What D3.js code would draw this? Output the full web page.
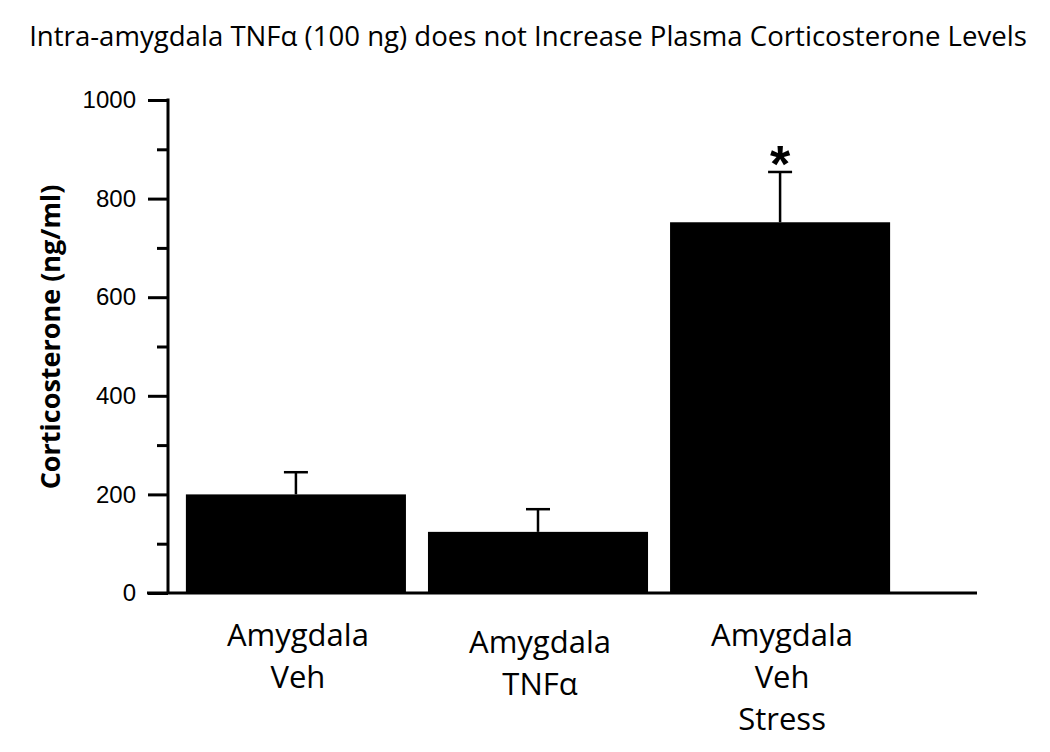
<!DOCTYPE html>
<html>
<head>
<meta charset="utf-8">
<script src="https://cdn.jsdelivr.net/npm/d3@7"></script>
<style>
  html, body { margin: 0; padding: 0; background: #fff; }
  svg { display: block; }
</style>
</head>
<body>
<svg id="chart" width="1050" height="752"></svg>
<script>
// ---- data ----
const categories = ["Amygdala Veh", "Amygdala TNFα", "Amygdala Veh Stress"];
const categoryLines = [["Amygdala", "Veh"], ["Amygdala", "TNFα"], ["Amygdala", "Veh", "Stress"]];
const labelOffsets = [0, 7, 0]; // second label sits slightly lower in the original
const means = [200, 124, 752];
const sems = [45, 46, 102];
const significant = [false, false, true];
const majorTicks = [0, 200, 400, 600, 800, 1000];
const minorTicks = [100, 300, 500, 700, 900];
const titleText = "Intra-amygdala TNFα (100 ng) does not Increase Plasma Corticosterone Levels";
const yLabel = "Corticosterone (ng/ml)";

const svg = d3.select("#chart");
const uiFont = "'Open Sans', 'Noto Sans', sans-serif";
const numFont = "'Liberation Sans', Arial, sans-serif";

const y = d3.scaleLinear().domain([0, 1000]).range([593, 100]);
const x = d3.scaleBand().domain(categories).range([175, 901])
  .paddingInner(0.091).paddingOuter(0.045);

// Title
const title = svg.append("text")
  .attr("x", 528).attr("y", 46)
  .attr("text-anchor", "middle")
  .attr("font-family", uiFont)
  .attr("font-size", 24)
  .attr("fill", "#000")
  .text(titleText);
{
  const w = title.node().getComputedTextLength();
  title.attr("font-size", 24 * 998 / w);
}

// Bars
svg.append("g").selectAll("rect").data(categories).join("rect")
  .attr("x", d => x(d))
  .attr("width", x.bandwidth())
  .attr("y", (d, i) => y(means[i]))
  .attr("height", (d, i) => y(0) - y(means[i]))
  .attr("fill", "#000");

// Error bars
const eb = svg.append("g").attr("stroke", "#000").attr("stroke-width", 2.5);
categories.forEach((c, i) => {
  const cx = x(c) + x.bandwidth() / 2;
  const top = y(means[i] + sems[i]);
  eb.append("line").attr("x1", cx).attr("x2", cx)
    .attr("y1", y(means[i])).attr("y2", top);
  eb.append("line").attr("x1", cx - 12).attr("x2", cx + 12)
    .attr("y1", top).attr("y2", top);
  if (significant[i]) {
    svg.append("text")
      .attr("x", cx).attr("y", top + 10)
      .attr("text-anchor", "middle")
      .attr("font-family", numFont)
      .attr("font-weight", "bold")
      .attr("font-size", 52)
      .attr("fill", "#000")
      .text("*");
  }
});

// Y axis (major ticks with labels)
const yAxis = d3.axisLeft(y).tickValues(majorTicks).tickSize(20).tickPadding(12)
  .tickFormat(d3.format("d"));
const gy = svg.append("g").attr("transform", "translate(168,0)").call(yAxis);
gy.select(".domain").remove();
gy.selectAll(".tick line").attr("stroke", "#000").attr("stroke-width", 3);
gy.selectAll(".tick text")
  .attr("font-family", numFont)
  .attr("font-size", 24).attr("fill", "#000");

// Minor ticks
const yMinor = d3.axisLeft(y).tickValues(minorTicks).tickSize(11).tickFormat("");
const gym = svg.append("g").attr("transform", "translate(168,0)").call(yMinor);
gym.select(".domain").remove();
gym.selectAll(".tick line").attr("stroke", "#000").attr("stroke-width", 3);

// Axis lines
svg.append("line").attr("x1", 168).attr("x2", 168)
  .attr("y1", y(1000) - 1.5).attr("y2", y(0))
  .attr("stroke", "#000").attr("stroke-width", 3);
svg.append("line").attr("x1", 147).attr("x2", 977)
  .attr("y1", y(0)).attr("y2", y(0))
  .attr("stroke", "#000").attr("stroke-width", 3);

// Category labels
const xl = svg.append("g").attr("font-family", uiFont).attr("font-size", 31).attr("fill", "#000");
categories.forEach((c, i) => {
  const cx = x(c) + x.bandwidth() / 2 + 2;
  const t = xl.append("text").attr("text-anchor", "middle")
    .attr("x", cx).attr("y", 646 + labelOffsets[i]);
  categoryLines[i].forEach((line, j) => {
    t.append("tspan").attr("x", cx).attr("dy", j === 0 ? 0 : 42).text(line);
  });
});

// Y label
svg.append("text")
  .attr("transform", "translate(60,337) rotate(-90)")
  .attr("text-anchor", "middle")
  .attr("font-family", uiFont)
  .attr("font-weight", "bold")
  .attr("font-size", 27)
  .attr("fill", "#000")
  .text(yLabel);
</script>
</body>
</html>
